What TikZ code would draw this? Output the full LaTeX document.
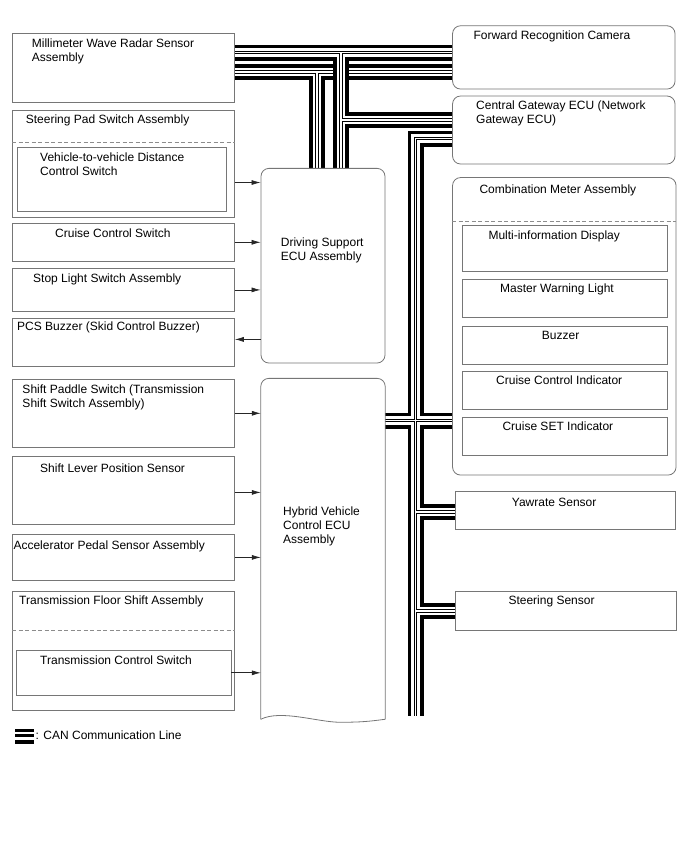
\documentclass[tikz,border=0pt]{standalone}
\usepackage{fontspec}
\setmainfont{Liberation Sans}
\usepackage{xcolor}
\usepackage{tikz}
\usetikzlibrary{arrows.meta,backgrounds,calc}
\definecolor{framegray}{RGB}{118,118,118}
\definecolor{dashgray}{RGB}{140,140,140}

\begin{document}
\begin{tikzpicture}[
    x=1pt, y=-1pt,
    box/.style={draw=framegray, line width=0.8pt, fill=white, inner sep=0pt},
    lbox/.style={box, minimum width=222pt},
    rbox/.style={box, rounded corners=8pt},
    mbox/.style={box, minimum width=205pt},
    txt/.style={anchor=north west, inner sep=0pt, align=left, font=\fontsize{12}{14}\selectfont},
    divider/.style={draw=dashgray, line width=0.7pt, dash pattern=on 4pt off 2.5pt},
    arr/.style={-{Latex[length=9pt, width=5pt]}, line width=0.7pt, draw=black!85},
    canline/.style={draw=black, line width=3.9pt, double=white, double distance=8.2pt,
                postaction={draw=black, line width=1.1pt, double=white, double distance=1.1pt}}
]
\useasboundingbox (0,0) rectangle (688,852);

\node[lbox, minimum height=69pt] (radar) at (123.4,67.9) {};
\node[lbox, minimum height=107pt] (sps) at (123.4,163.5) {};
\node[box, minimum width=209.4pt, minimum height=64.4pt] (vdc) at (122,179.5) {};
\node[lbox, minimum height=37.5pt] (ccs) at (123.4,242.3) {};
\node[lbox, minimum height=43.2pt] (sls) at (123.4,289.9) {};
\node[lbox, minimum height=48.2pt] (pcs) at (123.4,342.4) {};
\node[lbox, minimum height=68pt] (spd) at (123.4,413.3) {};
\node[lbox, minimum height=67.3pt] (slp) at (123.4,490.4) {};
\node[lbox, minimum height=46.2pt] (aps) at (123.4,557.4) {};
\node[lbox, minimum height=119pt] (tfs) at (123.4,650.5) {};
\node[box, minimum width=214.3pt, minimum height=45.5pt] (tcs) at (123.9,672.8) {};

\node[rbox, minimum width=124pt, minimum height=194.7pt] (dse) at (323,265.7) {};
\node[inner sep=0pt, minimum width=124pt, minimum height=340.5pt] (hv) at (323,548.8) {};
\draw[draw=framegray, line width=0.8pt, rounded corners=8pt] (hv.south west) -- (hv.north west) -- (hv.north east) -- (hv.south east);
\draw[draw=framegray, line width=0.8pt] (hv.south west) .. controls +(20,-10) and +(-22,0) .. ($(hv.south)+(17,3)$) .. controls +(22,0) and +(-15,2) .. (hv.south east);

\node[rbox, minimum width=222.5pt, minimum height=63.3pt] (cam) at (563.8,57.4) {};
\node[rbox, minimum width=222.5pt, minimum height=68pt] (gw) at (563.8,130) {};
\node[rbox, minimum width=223.5pt, minimum height=297.5pt] (cmb) at (564.3,326.3) {};
\node[mbox, minimum height=45.3pt] (mid) at (564.8,248.4) {};
\node[mbox, minimum height=37.7pt] (mwl) at (564.8,298.2) {};
\node[mbox, minimum height=37.6pt] (buz) at (564.8,345.5) {};
\node[mbox, minimum height=37.6pt] (cci) at (564.8,390.5) {};
\node[mbox, minimum height=38.4pt] (csi) at (564.8,436.5) {};
\node[box, minimum width=220pt, minimum height=38.3pt] (yaw) at (565.7,510.2) {};
\node[box, minimum width=220.3pt, minimum height=38.3pt] (ster) at (565.9,610.9) {};

\draw[divider] ([yshift=5pt]vdc.north -| sps.west) -- ([yshift=5pt]vdc.north -| sps.east);
\draw[divider] ([yshift=19.3pt]tcs.north -| tfs.west) -- ([yshift=19.3pt]tcs.north -| tfs.east);
\draw[divider] ([yshift=4pt]mid.north -| cmb.west) -- ([yshift=4pt]mid.north -| cmb.east);

\node[txt] (radartxt) at (31.7,38.3) {Millimeter Wave Radar Sensor\\Assembly};
\node[txt] (spstxt) at (25.7,114.3) {Steering Pad Switch Assembly};
\node[txt] (vdctxt) at (40,152.7) {Vehicle-to-vehicle Distance\\Control Switch};
\node[txt] (ccstxt) at (55,229) {Cruise Control Switch};
\node[txt] (slstxt) at (33,274) {Stop Light Switch Assembly};
\node[txt] (pcstxt) at (17,322) {PCS Buzzer (Skid Control Buzzer)};
\node[txt] (spdtxt) at (22.3,385) {Shift Paddle Switch (Transmission\\Shift Switch Assembly)};
\node[txt] (slptxt) at (40,464) {Shift Lever Position Sensor};
\node[txt] (apstxt) at (13.3,541) {Accelerator Pedal Sensor Assembly};
\node[txt] (tfstxt) at (19,595.7) {Transmission Floor Shift Assembly};
\node[txt] (tcstxt) at (40,656) {Transmission Control Switch};
\node[txt] (dsetxt) at (280.7,237.3) {Driving Support\\ECU Assembly};
\node[txt] (hvtxt) at (283,507) {Hybrid Vehicle\\Control ECU\\Assembly};
\node[txt] (camtxt) at (473.3,31) {Forward Recognition Camera};
\node[txt] (gwtxt) at (476,101) {Central Gateway ECU (Network\\Gateway ECU)};
\node[txt] (cmbtxt) at (479.3,185) {Combination Meter Assembly};
\node[txt] (midtxt) at (488.3,230.7) {Multi-information Display};
\node[txt] (mwltxt) at (500,284) {Master Warning Light};
\node[txt] (buztxt) at (541.7,331) {Buzzer};
\node[txt] (ccitxt) at (496,376) {Cruise Control Indicator};
\node[txt] (csitxt) at (502.3,421.7) {Cruise SET Indicator};
\node[txt] (yawtxt) at (511.7,497.7) {Yawrate Sensor};
\node[txt] (stertxt) at (508.3,595.7) {Steering Sensor};

\draw[arr] ([yshift=-3pt]vdc.east -| sps.east) -- ([yshift=-3pt]vdc.east -| dse.west);
\draw[arr] (ccs.east) -- (ccs.east -| dse.west);
\draw[arr] (sls.east) -- (sls.east -| dse.west);
\draw[arr] ([yshift=3pt]pcs.east -| dse.west) -- ([yshift=3pt]pcs.east);
\draw[arr] (spd.east) -- (spd.east -| hv.west);
\draw[arr] ([yshift=-2pt]slp.east) -- ([yshift=-2pt]slp.east -| hv.west);
\draw[arr] (aps.east) -- (aps.east -| hv.west);
\draw[arr] (tcs.east) -- (tcs.east -| hv.west);

\coordinate (railA) at (341,52.5);
\coordinate (railB) at (317,72);
\coordinate (gwA) at (341,120);
\coordinate (railC) at (415.5,138.5);
\coordinate (crossC) at (415.5,420.5);
\coordinate (yawC) at (415.5,512);
\coordinate (strC) at (415.5,611);
\coordinate (endC) at (415.5,716);

\begin{scope}[on background layer]
\draw[canline] (radar.east |- railB) -- (cam.west |- railB) (railB) -- (railB |- dse.north);
\draw[canline] (radar.east |- railA) -- (cam.west |- railA) (railA) -- (railA |- dse.north) (gwA) -- (gw.west |- gwA);
\draw[canline] (gw.west |- railC) -- (railC) -- (endC) (hv.east |- crossC) -- (cmb.west |- crossC)
    (yawC) -- (yaw.west |- yawC) (strC) -- (ster.west |- strC);
\end{scope}

\fill (15,729.3) rectangle (34,731.6);
\fill (15,734.3) rectangle (34,736.7);
\fill (15,740) rectangle (34,743.8);
\node[txt] (legend) at (35.5,731) {: CAN Communication Line};
\end{tikzpicture}
\end{document}
